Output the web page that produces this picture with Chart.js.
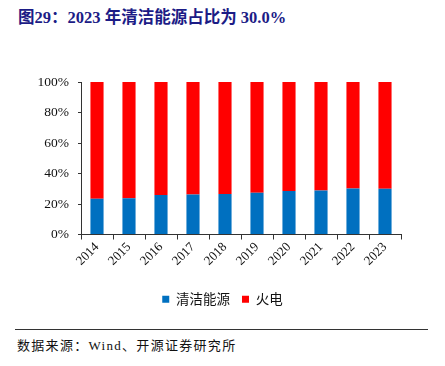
<!DOCTYPE html>
<html>
<head>
<meta charset="utf-8">
<script src="https://cdn.jsdelivr.net/npm/chart.js@4/dist/chart.umd.min.js"></script>
<style>
  html, body { margin: 0; padding: 0; background: #fff; }
  body { width: 445px; height: 366px; position: relative; overflow: hidden; }
  #title {
    position: absolute; left: 18px; top: 4px;
    font: bold 16.5px "Liberation Serif", "Noto Sans CJK SC", serif;
    color: #1c1c86; white-space: nowrap;
  }
  #wrap { position: absolute; left: 0; top: 60px; width: 445px; height: 260px; }
  #rule { position: absolute; left: 15px; top: 329px; width: 413px; height: 0; border-top: 1px solid #333; }
  #source {
    position: absolute; left: 17px; top: 335px;
    font: 13px "Liberation Serif", "Noto Sans CJK SC", serif;
    letter-spacing: 1.3px;
    color: #111; white-space: nowrap;
  }
</style>
</head>
<body>
<div id="title">图29：2023 年清洁能源占比为 30.0%</div>
<div id="wrap"><canvas id="chart"></canvas></div>
<div id="rule"></div>
<div id="source">数据来源：Wind、开源证券研究所</div>
<script>
const years = ['2014', '2015', '2016', '2017', '2018', '2019', '2020', '2021', '2022', '2023'];
const cleanShare = [23.5, 23.7, 25.9, 26.3, 26.6, 27.4, 28.6, 28.8, 30.2, 30.0];
const thermalShare = [76.5, 76.3, 74.1, 73.7, 73.4, 72.6, 71.4, 71.2, 69.8, 70.0];
const yTicks = [0, 20, 40, 60, 80, 100];

const palette = {
  clean: '#0070C0',
  thermal: '#FF0000',
  axis: '#333333',
  text: '#111111',
};

const latinFont = '"Liberation Serif", "Times New Roman", serif';

// legend sits centred on the whole canvas, not between the padded edges
const centreLegend = {
  id: 'centreLegend',
  afterLayout(chart) {
    const legend = chart.legend;
    if (!legend) return;
    legend.left = 0;
    legend.right = chart.width;
    legend.width = chart.width;
  },
};

const init = () => {
  new Chart(document.getElementById('chart').getContext('2d'), {
    type: 'bar',
    data: {
      labels: years,
      datasets: [
        { label: '清洁能源', data: cleanShare, backgroundColor: palette.clean },
        { label: '火电', data: thermalShare, backgroundColor: palette.thermal },
      ],
    },
    plugins: [centreLegend],
    options: {
      responsive: true,
      maintainAspectRatio: false,
      animation: false,
      datasets: { bar: { categoryPercentage: 1, barPercentage: 0.41 } },
      layout: { padding: { top: 22, right: 44, left: 0, bottom: 4 } },
      plugins: {
        tooltip: { enabled: false },
        legend: {
          position: 'bottom',
          labels: {
            boxWidth: 7,
            boxHeight: 7,
            padding: 12,
            color: palette.text,
            font: { family: '"Noto Sans CJK SC", sans-serif', size: 13.5 },
          },
        },
      },
      scales: {
        x: {
          stacked: true,
          afterFit: (scale) => { scale.height = 46; },
          grid: { drawOnChartArea: false, drawTicks: true, tickLength: 5, color: palette.axis, offset: true },
          border: { display: true, color: palette.axis, width: 1 },
          ticks: {
            color: palette.text,
            minRotation: 45,
            maxRotation: 45,
            padding: 0,
            font: { family: latinFont, size: 13 },
          },
        },
        y: {
          stacked: true,
          min: 0,
          max: 100,
          afterBuildTicks: (scale) => { scale.ticks = yTicks.map((v) => ({ value: v })); },
          afterFit: (scale) => { scale.width = 81; },
          grid: { drawOnChartArea: false, drawTicks: true, tickLength: 3, color: palette.axis },
          border: { display: true, color: palette.axis, width: 1 },
          ticks: {
            color: palette.text,
            padding: 9,
            callback: (v) => `${v}%`,
            font: { family: latinFont, size: 13.5 },
          },
        },
      },
    },
  });
};

document.addEventListener('DOMContentLoaded', init);
</script>
</body>
</html>
